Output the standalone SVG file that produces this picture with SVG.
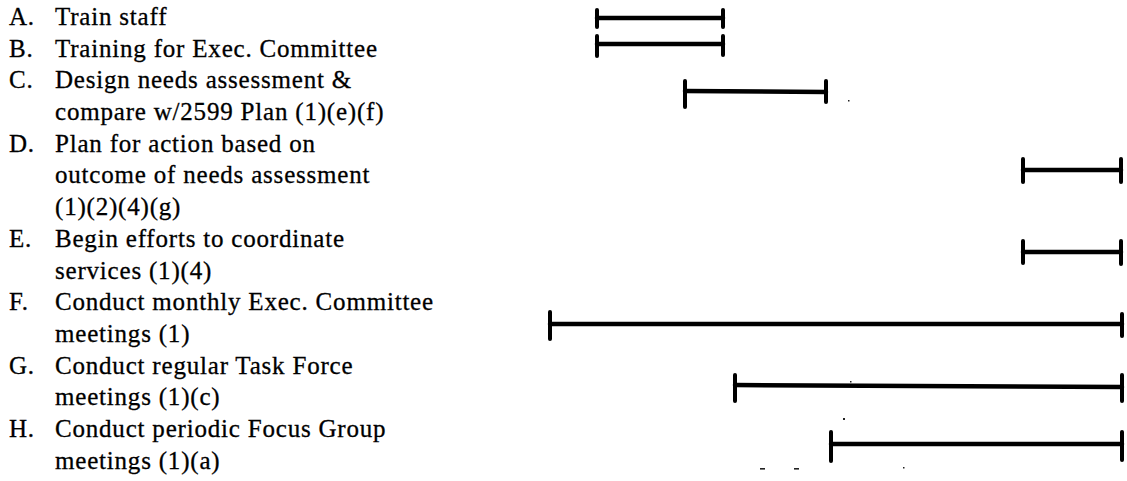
<svg xmlns="http://www.w3.org/2000/svg" width="1127" height="481" viewBox="0 0 1127 481">
<style>
text{font-family:"Liberation Serif","Times New Roman",serif;font-size:25px;fill:#000;stroke:#000;stroke-width:0.3;letter-spacing:0.8px}
.bar{stroke:#000;stroke-width:4.5;fill:none;stroke-linecap:round}
.tick{stroke:#000;stroke-width:4;fill:none;stroke-linecap:round}
.speck{fill:#222}
</style>
<rect width="1127" height="481" fill="#fff"/>
<g id="labels">
<g id="label-A"><text x="9" y="25">A.</text><text x="55" y="25">Train staff</text></g>
<g id="label-B"><text x="9" y="57">B.</text><text x="55" y="57">Training for Exec. Committee</text></g>
<g id="label-C"><text x="9" y="88">C.</text><text x="55" y="88">Design needs assessment &amp;</text><text x="55" y="120">compare w/2599 Plan (1)(e)(f)</text></g>
<g id="label-D"><text x="9" y="152">D.</text><text x="55" y="152">Plan for action based on</text><text x="55" y="183">outcome of needs assessment</text><text x="55" y="215">(1)(2)(4)(g)</text></g>
<g id="label-E"><text x="9" y="247">E.</text><text x="55" y="247">Begin efforts to coordinate</text><text x="55" y="279">services (1)(4)</text></g>
<g id="label-F"><text x="9" y="310">F.</text><text x="55" y="310">Conduct monthly Exec. Committee</text><text x="55" y="342">meetings (1)</text></g>
<g id="label-G"><text x="9" y="374">G.</text><text x="55" y="374">Conduct regular Task Force</text><text x="55" y="405">meetings (1)(c)</text></g>
<g id="label-H"><text x="9" y="437">H.</text><text x="55" y="437">Conduct periodic Focus Group</text><text x="55" y="469">meetings (1)(a)</text></g>
</g>
<g id="bars">
<g id="bar-A"><line class="bar" x1="597" y1="18" x2="723" y2="18"/><line class="tick" x1="597" y1="10" x2="597" y2="27"/><line class="tick" x1="723" y1="10" x2="723" y2="27"/></g>
<g id="bar-B"><line class="bar" x1="597" y1="44" x2="723" y2="44"/><line class="tick" x1="597" y1="36" x2="597" y2="56"/><line class="tick" x1="723" y1="36" x2="723" y2="55"/></g>
<g id="bar-C"><line class="bar" x1="685" y1="91" x2="826" y2="92"/><line class="tick" x1="685" y1="81" x2="685" y2="107"/><line class="tick" x1="826" y1="81" x2="826" y2="102"/></g>
<g id="bar-D"><line class="bar" x1="1023" y1="170" x2="1121" y2="170"/><line class="tick" x1="1023" y1="159" x2="1023" y2="182"/><line class="tick" x1="1121" y1="159" x2="1121" y2="182"/></g>
<g id="bar-E"><line class="bar" x1="1023" y1="252" x2="1121" y2="252"/><line class="tick" x1="1023" y1="241" x2="1023" y2="263"/><line class="tick" x1="1121" y1="241" x2="1121" y2="264"/></g>
<g id="bar-F"><line class="bar" x1="550" y1="324" x2="1122" y2="324"/><line class="tick" x1="550" y1="312" x2="550" y2="339"/><line class="tick" x1="1122" y1="314" x2="1122" y2="336"/></g>
<g id="bar-G"><line class="bar" x1="735" y1="385" x2="1122" y2="387"/><line class="tick" x1="735" y1="375" x2="735" y2="401"/><line class="tick" x1="1122" y1="375" x2="1122" y2="401"/></g>
<g id="bar-H"><line class="bar" x1="831" y1="444" x2="1122" y2="444"/><line class="tick" x1="831" y1="432" x2="831" y2="461"/><line class="tick" x1="1122" y1="432" x2="1122" y2="460"/></g>
</g>
<g id="specks">
<rect class="speck" x="760" y="468" width="5" height="1.6"/>
<rect class="speck" x="794" y="468" width="5" height="1.6"/>
<rect class="speck" x="903" y="467" width="1.5" height="1.5"/>
<rect class="speck" x="850" y="381" width="1.5" height="1.5"/>
<rect class="speck" x="843" y="418" width="2" height="2"/>
<rect class="speck" x="848" y="100" width="1.5" height="1.5"/>
</g>
</svg>
